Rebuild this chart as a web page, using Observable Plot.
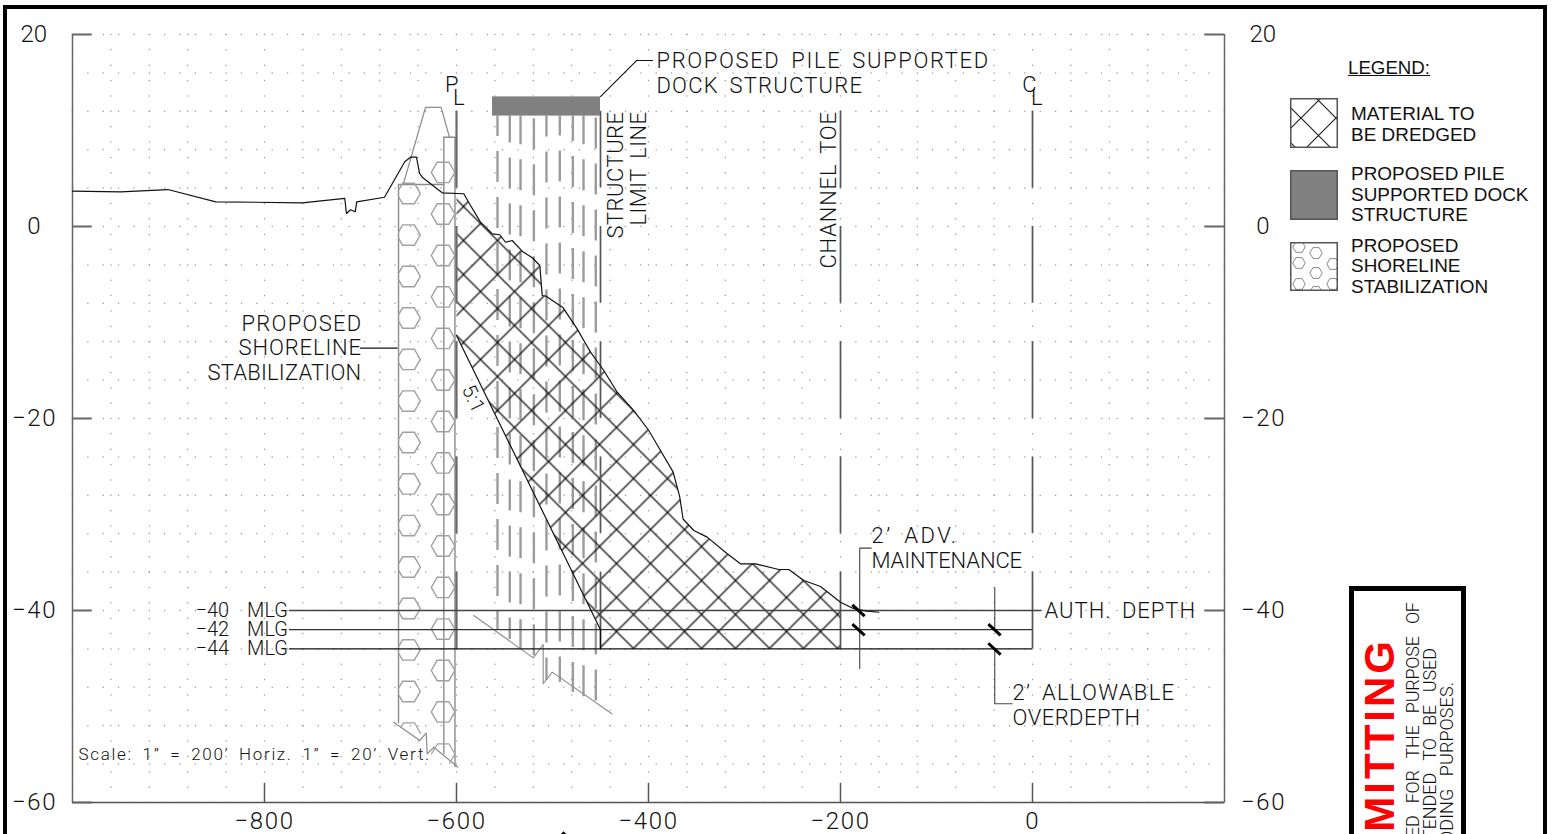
<!DOCTYPE html>
<html><head><meta charset="utf-8">
<script src="https://cdn.jsdelivr.net/npm/d3@7"></script>
<script src="https://cdn.jsdelivr.net/npm/@observablehq/plot@0.6"></script>
<style>
html,body{margin:0;padding:0;width:1554px;height:834px;overflow:hidden;background:#fff}
#frame{position:absolute;left:3px;top:5px;width:1536px;height:900px;border:4px solid #000;box-sizing:content-box;pointer-events:none}
#chart{position:absolute;left:0;top:0}
#chart svg{background:none}
#chart text{font-family:Roboto,"Liberation Sans",sans-serif;font-weight:300;letter-spacing:1.4px;word-spacing:4px;fill:#111}
#legend{position:absolute;left:0;top:0;width:1554px;height:834px;pointer-events:none;font-family:"Liberation Sans",Arial,sans-serif;font-size:18.95px;color:#111}
#legend .t{position:absolute;left:1351px;line-height:20.5px;white-space:pre}
#legend .h{position:absolute;left:1348px;top:58px;line-height:20px;font-size:18.7px;text-decoration:underline}
#legend svg{position:absolute;left:1290px;overflow:hidden;background:#fff}
#permit{position:absolute;left:1349px;top:586px;width:107px;height:300px;border:5px solid #000;background:#fff}
#permitText{position:absolute;left:0;top:0;pointer-events:none}
</style></head><body>
<div id="chart"></div>
<div id="frame"></div>
<div id="legend">
  <div class="h">LEGEND:</div>
  <svg id="sw1" width="48" height="50" style="top:98px"></svg>
  <div class="t" style="top:104px">MATERIAL TO
BE DREDGED</div>
  <svg id="sw2" width="48" height="50" style="top:170px"></svg>
  <div class="t" style="top:164px">PROPOSED PILE
SUPPORTED DOCK
STRUCTURE</div>
  <svg id="sw3" width="48" height="49" style="top:242px"></svg>
  <div class="t" style="top:235.5px">PROPOSED
SHORELINE
STABILIZATION</div>
</div>
<div id="permit"></div>
<svg id="permitText" width="1554" height="834" xmlns="http://www.w3.org/2000/svg">
  <text transform="translate(1394,638) rotate(-90)" text-anchor="end" font-family="Liberation Sans,Arial,sans-serif" font-weight="700" font-size="42" letter-spacing="3" fill="#ff0000">MITTING</text>
  <text transform="translate(1419,602) rotate(-90)" text-anchor="end" textLength="235" font-family="Roboto,sans-serif" font-weight="300" font-size="18" word-spacing="8" fill="#111">ED FOR THE PURPOSE OF</text>
  <text transform="translate(1436,648) rotate(-90)" text-anchor="end" textLength="192" font-family="Roboto,sans-serif" font-weight="300" font-size="18" word-spacing="8" fill="#111">TENDED TO BE USED</text>
  <text transform="translate(1453,682) rotate(-90)" text-anchor="end" textLength="161" font-family="Roboto,sans-serif" font-weight="300" font-size="18" word-spacing="8" fill="#111">ODING PURPOSES.</text>
</svg>
<script>
// ---- axes
const xTicks = [-800, -600, -400, -200, 0];
const yTicks = [20, 0, -20, -40, -60];
const xEdges = [-1000, 200];
// ---- existing ground profile (ft)
const groundX = [-1000,-950,-900.7,-850.7,-760.7,-716.4,-714.6,-710.4,-705.5,-703.9,-675,-653.9,-647.9,-641.7,-638.5,-635.7,-614.9,-592.4,-585.4,-575,-562.8,-554.9,-549,-542,-531.6,-521.1,-513.2,-510.7,-506.6,-488.9,-474.3,-467.4,-460.4,-446.6,-432.6,-415.3,-399.7,-387.5,-374.3,-367.4,-364,-352.8,-338.9,-318,-304.2,-288.5,-264.3,-253.9,-238.2,-220.8,-200,-186.1,-172.2,-160.1];
const groundY = [3.68,3.61,3.85,2.57,2.47,2.92,1.35,1.74,1.53,2.57,3.05,6.74,7.22,7.22,5.55,5.14,3.51,3.41,2.19,0.45,-0.76,-0.86,-1.64,-1.46,-2.57,-3.26,-4.06,-7.19,-7.26,-8.47,-10.66,-11.88,-13.09,-15,-17.26,-19.17,-21.25,-23.33,-25.59,-28.2,-30.47,-31.67,-32.36,-34.09,-35.14,-35.14,-35.73,-35.73,-36.88,-37.5,-39.14,-39.82,-40.07,-40.18];
// ---- dredge prism: ground from -600 to -200, then back along the template
const prismTopX = [-600,-592.4,-585.4,-575,-562.8,-554.9,-549,-542,-531.6,-521.1,-513.2,-510.7,-506.6,-488.9,-474.3,-467.4,-460.4,-446.6,-432.6,-415.3,-399.7,-387.5,-374.3,-367.4,-364,-352.8,-338.9,-318,-304.2,-288.5,-264.3,-253.9,-238.2,-220.8,-200];
const prismTopY = [3.45,3.41,2.19,0.45,-0.76,-0.86,-1.64,-1.46,-2.57,-3.26,-4.06,-7.19,-7.26,-8.47,-10.66,-11.88,-13.09,-15,-17.26,-19.17,-21.25,-23.33,-25.59,-28.2,-30.47,-31.67,-32.36,-34.09,-35.14,-35.14,-35.73,-35.73,-36.88,-37.5,-39.14];
const templateX = [-200,-450,-450,-600];
const templateY = [-44,-44,-42,-11.35];
const slopeX = [-600,-450,-450];
const slopeY = [-11.35,-42,-44];
// ---- depth levels
const levels = [-40,-42,-44];
const levelNames = ["\u221240  MLG","\u221242  MLG","\u221244  MLG"];
const levelStart = -774;
const levelEnd = [10,0,0];
// ---- limit lines
const limitLines = [-600,-450,-200,0];
const limitTop = [12,0,-12,-24,-36];
const limitBottom = [4,-8,-20,-32,-44];
// ---- dock and piles
const dockX = [-562.5,-450];
const dockY = [11.5,13.5];
const pileX = [-557.3,-544.5,-533.3,-519.4,-506.3,-492.4,-478.8,-467.7,-454.9];
const pileBottom = [-42.08,-43.02,-43.96,-44.9,-47.29,-47.5,-48.54,-49.17,-49.69];
const pilePhase = [10.7,4,2.3,43.3,10,11,5.7,2.3,44];
const pileBreakX = [-582,-520.1,-509.7,-509.7,-500.3,-438.2];
const pileBreakY = [-40.52,-44.93,-43.54,-47.63,-46.42,-50.76];
// ---- shoreline stabilization
const hexLeftY = [3.44,-0.89,-5.21,-9.53,-13.85,-18.18,-22.5,-26.82,-31.15,-35.47,-39.79,-44.11,-48.44];
const hexRightY = [5.63,1.3,-3.02,-7.34,-11.66,-15.99,-20.31,-24.63,-28.96,-33.28,-37.6,-41.93,-46.25,-50.57];
const hexLeftX = -650, hexRightX = -614;
const shoreOutlineX = [-660.4,-660.4,-613.2];
const shoreOutlineY = [-51.67,4.375,4.375];
const stripX = [-613.2,-613.2,-601.6,-601.6];
const stripY = [-54.93,9.3,9.3,-56.25];
const humpX = [-655.5,-632.3,-616,-607.3];
const humpY = [4.375,12.4,12.4,9.3];
const shoreBreakX = [-665.3,-638.2,-631.6,-630.5,-623.6,-598.6];
const shoreBreakY = [-51.63,-53.54,-52.78,-54.93,-54.24,-56.32];
const cutHexAX = [-658.3,-655.2,-643.75,-637.5];
const cutHexAY = [-52.2,-51.7,-51.7,-52.8];
const cutHexBX = [-626,-619.9,-607.7,-601.6,-607.3];
const cutHexBY = [-54.93,-53.9,-53.9,-54.93,-55.9];
// ---- leaders and dimension slashes
const dockLeaderX = [-450,-412.5,-395.8];
const dockLeaderY = [13.54,17.29,17.29];
const shoreLeaderX = [-700,-661.8];
const shoreLeaderY = [-12.67,-12.67];
const advLeaderX = [-168,-180,-180];
const advLeaderY = [-33.5,-33.5,-46.05];
const overTopX = [-39.3,-39.3];
const overTopY = [-37.64,-42];
const overBotX = [-39.3,-39.3,-21.2];
const overBotY = [-44,-49.72,-49.72];
const slashX = [-181.25,-181.25,-39.6,-39.6];
const slashY = [-40,-42,-42,-44];
// ---- labels
const startLabels = ["PROPOSED PILE SUPPORTED","DOCK STRUCTURE","AUTH. DEPTH","2\u2019 ADV.","MAINTENANCE","2\u2019 ALLOWABLE","OVERDEPTH"];
const startLabelX = [-391.7,-391.7,12.5,-167.7,-167.7,-20.83,-20.83];
const startLabelY = [17.29,14.69,-40,-32.19,-34.79,-48.54,-51.15];
const shoreLabels = ["PROPOSED","SHORELINE","STABILIZATION"];
const shoreLabelY = [-10.1,-12.6,-15.3];
const upLabels = ["STRUCTURE","LIMIT LINE","CHANNEL TOE"];
const upLabelX = [-434.4,-410.4,-212.5];
const markerText = ["P","L","C","L"];
const markerX = [-604.2,-596.9,-2.5,5.2];
const markerY = [14.7,13.44,14.7,13.44];
const scaleNote = "Scale: 1\u201d = 200\u2019 Horiz. 1\u201d = 20\u2019 Vert.";
// ---- printed widths of the drafted (stroke-font) labels
const printedWidth = new Map([
  ["PROPOSED PILE SUPPORTED",333],["DOCK STRUCTURE",207],["AUTH. DEPTH",152],["2\u2019 ADV.",86],["MAINTENANCE",152],
  ["2\u2019 ALLOWABLE",163],["OVERDEPTH",129],["PROPOSED",121],["SHORELINE",124],["STABILIZATION",155],
  ["STRUCTURE",128],["LIMIT LINE",115],["CHANNEL TOE",158],
  ["\u221240  MLG",94],["\u221242  MLG",94],["\u221244  MLG",94],[scaleNote,352],["5:1",29],
  ["\u221220",45],["\u221240",45],["\u221260",45],["20",28],
  ["\u2212800",60],["\u2212600",60],["\u2212400",60],["\u2212200",60]
]);

const pts = (xs, ys) => xs.map((x, i) => ({x, y: ys[i]}));
const fmt = d => d < 0 ? "\u2212" + Math.abs(d) : String(d);
const ink = "#111", grey = "#8c8c8c";

const dotsH = d3.range(-60, 21, 4).flatMap(y => d3.range(-1000, 201, 16).map(x => ({x, y})));
const dotsV = d3.range(-1000, 201, 40).flatMap(x => d3.range(0, 51).map(i => ({x, y: 20 - i * 1.6})));

// hexagon whose left corner is cut off by the stone edge
const cutHexagon = {draw(c) {
  c.moveTo(-10.3, -2.6); c.lineTo(-5.9, -10.2); c.lineTo(5.9, -10.2); c.lineTo(11.8, 0);
  c.lineTo(5.9, 10.2); c.lineTo(-5.9, 10.2); c.lineTo(-10.3, 2.6);
}};

const defs = () => {
  const s = d3.create("svg:defs");
  const p = s.append("pattern").attr("id", "hatch").attr("patternUnits", "userSpaceOnUse")
    .attr("x", 667).attr("y", 648).attr("width", 34).attr("height", 34);
  p.append("path").attr("d", "M0 0L34 34M34 0L0 34").attr("stroke", "#111").attr("stroke-width", 1.25).attr("fill", "none");
  return s.node();
};
const seg = (xs, ys, o = {}) => Plot.line(pts(xs, ys), {x: "x", y: "y", stroke: ink, strokeWidth: 1.1, ...o});

const marks = [
  defs,
  // grid
  Plot.dot(dotsH, {x: "x", y: "y", r: 0.75, fill: "#9a9a9a", stroke: "none"}),
  Plot.dot(dotsV, {x: "x", y: "y", r: 0.75, fill: "#9a9a9a", stroke: "none"}),
  // piles
  ...pileX.map((x, i) => Plot.ruleX([x], {y1: dockY[0], y2: pileBottom[i], stroke: "#9c9c9c", strokeWidth: 2.4, strokeDasharray: "31 15", strokeDashoffset: pilePhase[i], strokeLinecap: "butt"})),
  seg(pileBreakX, pileBreakY, {stroke: grey}),
  // shoreline stabilization
  seg(shoreOutlineX, shoreOutlineY, {stroke: grey, strokeWidth: 1.4}),
  seg(stripX, stripY, {stroke: grey, strokeWidth: 1.4}),
  seg(humpX, humpY, {stroke: grey, strokeWidth: 1.2}),
  seg(shoreBreakX, shoreBreakY, {stroke: grey, strokeWidth: 1.2}),
  seg(cutHexAX, cutHexAY, {stroke: "#a0a0a0", strokeWidth: 1.2}),
  seg(cutHexBX, cutHexBY, {stroke: "#a0a0a0", strokeWidth: 1.2}),
  Plot.dot(hexLeftY, {x: () => hexLeftX, y: d => d, symbol: cutHexagon, r: 10.2, fill: "none", stroke: "#a0a0a0", strokeWidth: 1.4}),
  Plot.dot(hexRightY, {x: () => hexRightX, y: d => d, symbol: "hexagon", r: 10.2, rotate: 90, fill: "none", stroke: "#a0a0a0", strokeWidth: 1.4}),
  // frame of the section
  Plot.ruleX(xEdges, {y1: -60, y2: 20, stroke: "#666", strokeWidth: 1.5}),
  Plot.ruleY([-60], {x1: xEdges[0], x2: xEdges[1], stroke: "#555", strokeWidth: 1.6}),
  Plot.ruleY(yTicks, {x1: -1000, x2: -979.4, stroke: "#666", strokeWidth: 2}),
  Plot.ruleY(yTicks, {x1: 179.4, x2: 200, stroke: "#666", strokeWidth: 2}),
  Plot.ruleX(xTicks, {y1: -60, y2: -58, stroke: "#555", strokeWidth: 1.5}),
  Plot.axisX(xTicks, {anchor: "bottom", label: null, tickSize: 0, tickPadding: 9, fontSize: 24, tickFormat: fmt}),
  Plot.axisY(yTicks, {anchor: "left", label: null, tickSize: 0, tickPadding: 38, textAnchor: "middle", fontSize: 24, tickFormat: fmt}),
  Plot.axisY(yTicks, {anchor: "right", label: null, tickSize: 0, tickPadding: 39, textAnchor: "middle", fontSize: 24, tickFormat: fmt}),
  // dredge material
  Plot.line(pts([...prismTopX, ...templateX], [...prismTopY, ...templateY]), {x: "x", y: "y", fill: "url(#hatch)", stroke: "none"}),
  // limit lines
  ...limitLines.map(x => Plot.ruleX(limitTop.map((t, i) => ({t, b: limitBottom[i]})), {x: () => x, y1: "t", y2: "b", stroke: x === -600 ? "#6a6a6a" : "#555", strokeWidth: x === -600 ? 2.2 : 1.7})),
  // depth lines
  ...levels.map((y, i) => Plot.ruleY([y], {x1: levelStart, x2: levelEnd[i], stroke: i === 0 ? "#444" : i === 1 ? "#333" : "#111", strokeWidth: i === 0 ? 1.7 : 1.2})),
  // dock
  Plot.rect([0], {x1: () => dockX[0], x2: () => dockX[1], y1: () => dockY[0], y2: () => dockY[1], fill: "#808080"}),
  // profile and template
  seg(groundX, groundY, {strokeWidth: 1.2}),
  seg(slopeX, slopeY, {strokeWidth: 1.2}),
  // leaders
  seg(dockLeaderX, dockLeaderY),
  seg(shoreLeaderX, shoreLeaderY),
  seg(advLeaderX, advLeaderY, {stroke: "#444"}),
  seg(overTopX, overTopY, {stroke: "#444"}),
  seg(overBotX, overBotY, {stroke: "#444"}),
  Plot.link(pts(slashX, slashY), {x1: d => d.x - 6.4, x2: d => d.x + 6.4, y1: d => d.y + 0.59, y2: d => d.y - 0.59, stroke: "#000", strokeWidth: 3}),
  // north arrow peeking at the sheet edge
  Plot.dot([0], {x: () => -488.5, y: () => -64.5, symbol: "diamond2", r: 13, fill: "#000", stroke: "none"}),
  // labels
  Plot.text(startLabels, {x: (d, i) => startLabelX[i], y: (d, i) => startLabelY[i], text: d => d, textAnchor: "start", fontSize: 22}),
  Plot.text(shoreLabels, {x: () => -697.9, y: (d, i) => shoreLabelY[i], text: d => d, textAnchor: "end", fontSize: 22}),
  Plot.text(levelNames, {x: () => levelStart, y: (d, i) => levels[i], text: d => d, textAnchor: "end", fontSize: 20}),
  Plot.text(upLabels, {x: (d, i) => upLabelX[i], y: () => 12.08, text: d => d, rotate: -90, textAnchor: "end", fontSize: 22}),
  Plot.text(markerText, {x: (d, i) => markerX[i], y: (d, i) => markerY[i], text: d => d, fontSize: 22}),
  Plot.text(["5:1"], {x: () => -582.3, y: () => -18, text: d => d, rotate: 64, fontSize: 20}),
  Plot.text([scaleNote], {x: () => -993.75, y: () => -55, text: d => d, textAnchor: "start", fontSize: 17})
];

const chart = Plot.plot({
  width: 1554, height: 834,
  marginLeft: 72, marginRight: 330, marginTop: 34, marginBottom: 32,
  x: {domain: xEdges, axis: null},
  y: {domain: [-60, 20], axis: null},
  marks
});
document.getElementById("chart").append(chart);
chart.querySelectorAll("text").forEach(t => {
  const w = printedWidth.get(t.textContent);
  if (w) t.setAttribute("textLength", w);
});

// legend swatches
const sw1 = d3.select("#sw1");
const dp = sw1.append("defs").append("pattern").attr("id", "hatchLegend").attr("patternUnits", "userSpaceOnUse")
  .attr("x", 11).attr("y", 20).attr("width", 35).attr("height", 35);
dp.append("path").attr("d", "M0 0L35 35M35 0L0 35").attr("stroke", "#222").attr("stroke-width", 1.2).attr("fill", "none");
sw1.append("rect").attr("x", .75).attr("y", .75).attr("width", 46.5).attr("height", 48.5).attr("fill", "url(#hatchLegend)").attr("stroke", "#555").attr("stroke-width", 1.5);
d3.select("#sw2").append("rect").attr("x", .75).attr("y", .75).attr("width", 46.5).attr("height", 48.5).attr("fill", "#808080").attr("stroke", "#555").attr("stroke-width", 1.5);
const sw3 = d3.select("#sw3");
const hexCenters = [[9,5],[26,11],[9,21],[43,22],[26,31],[9,42],[43,42],[26,50]];
hexCenters.forEach(([cx, cy]) => {
  const r = 6.2;
  const p = d3.range(6).map(k => [cx + r * Math.cos(k * Math.PI / 3), cy + r * Math.sin(k * Math.PI / 3)].join(",")).join(" ");
  sw3.append("polygon").attr("points", p).attr("fill", "none").attr("stroke", "#888").attr("stroke-width", 1);
});
sw3.append("rect").attr("x", .75).attr("y", .75).attr("width", 46.5).attr("height", 47.5).attr("fill", "none").attr("stroke", "#555").attr("stroke-width", 1.5);
</script>
</body></html>
